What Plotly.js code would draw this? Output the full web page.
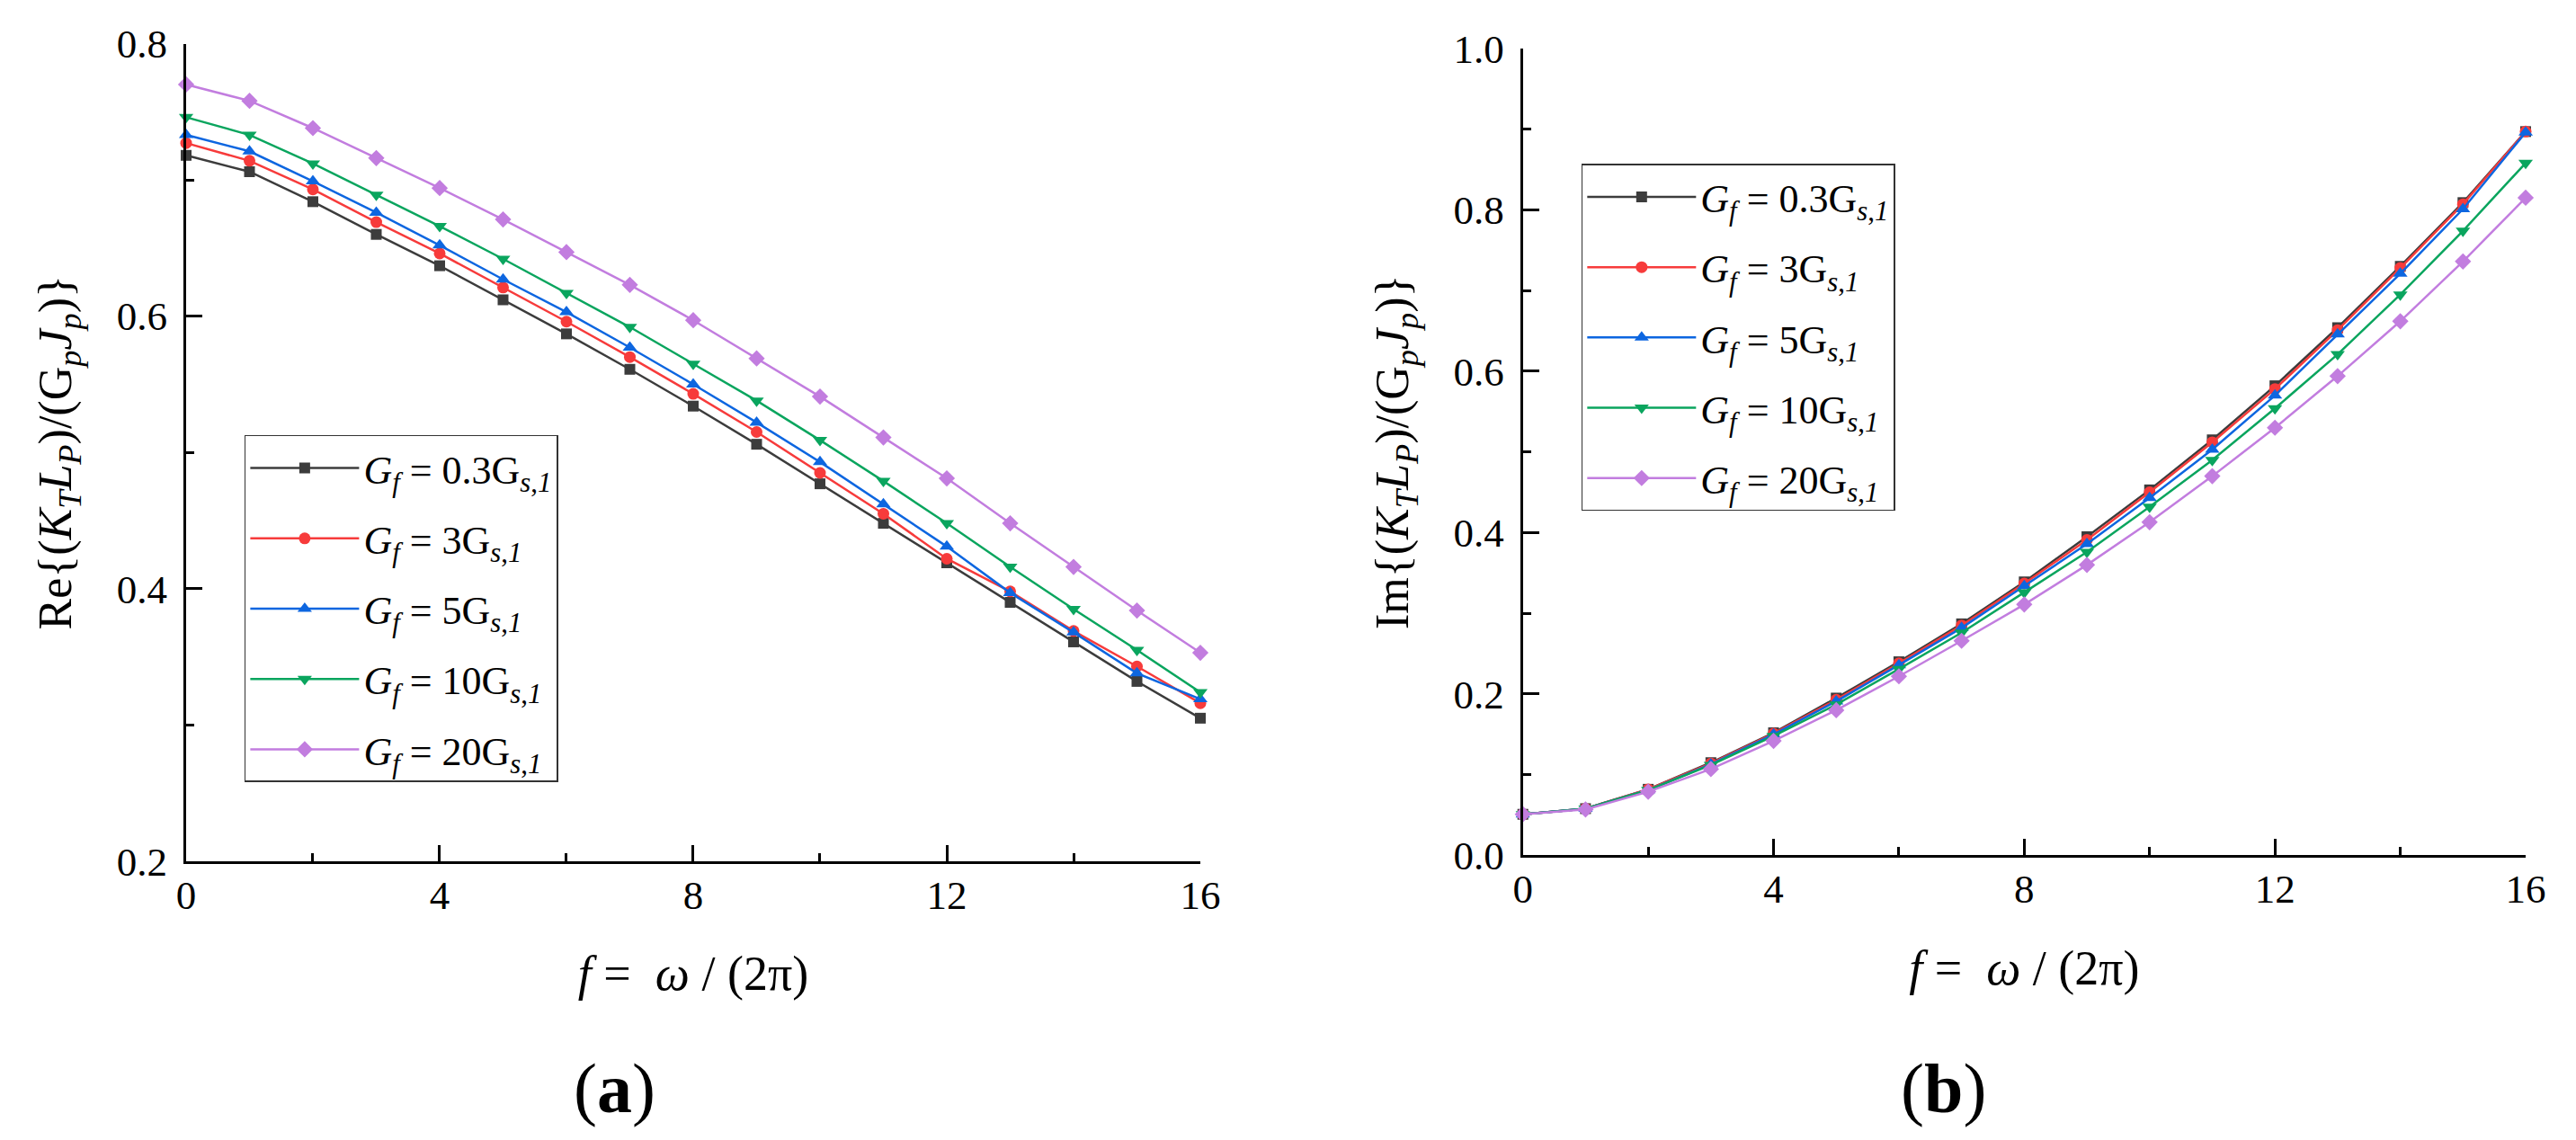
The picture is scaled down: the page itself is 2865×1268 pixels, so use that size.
<!DOCTYPE html>
<html>
<head>
<meta charset="utf-8">
<script src="https://cdn.plot.ly/plotly-3.0.1.min.js"></script>
<style>
  html, body { margin: 0; padding: 0; background: #fff; }
  #chart { width: 2865px; height: 1268px; }
</style>
</head>
<body>
<div id="chart"></div>
<script>
// values, f = 0..16
const freq = [0, 1, 2, 3, 4, 5, 6, 7, 8, 9, 10, 11, 12, 13, 14, 15, 16];
const ratios = ['0.3', '3', '5', '10', '20'];

// (a) real part
const reG03 = [0.718, 0.706, 0.684, 0.660, 0.637, 0.612, 0.587, 0.561, 0.534, 0.506, 0.477, 0.448, 0.419, 0.390, 0.361, 0.332, 0.305];
const reG3  = [0.727, 0.714, 0.693, 0.669, 0.646, 0.621, 0.596, 0.570, 0.543, 0.515, 0.485, 0.455, 0.422, 0.398, 0.369, 0.343, 0.316];
const reG5  = [0.733, 0.721, 0.699, 0.676, 0.652, 0.627, 0.603, 0.577, 0.550, 0.522, 0.493, 0.462, 0.431, 0.397, 0.368, 0.338, 0.319];
const reG10 = [0.746, 0.733, 0.712, 0.689, 0.666, 0.642, 0.617, 0.592, 0.565, 0.538, 0.509, 0.479, 0.448, 0.416, 0.385, 0.355, 0.324];
const reG20 = [0.770, 0.758, 0.738, 0.716, 0.694, 0.671, 0.647, 0.623, 0.597, 0.569, 0.541, 0.511, 0.481, 0.448, 0.416, 0.384, 0.353];

// (b) imaginary part
const imG03 = [0.051, 0.058, 0.082, 0.115, 0.152, 0.195, 0.240, 0.287, 0.339, 0.395, 0.453, 0.515, 0.582, 0.654, 0.730, 0.809, 0.897];
const imG3  = [0.051, 0.058, 0.082, 0.114, 0.151, 0.193, 0.238, 0.285, 0.337, 0.391, 0.450, 0.512, 0.578, 0.651, 0.728, 0.807, 0.897];
const imG5  = [0.051, 0.058, 0.081, 0.113, 0.150, 0.191, 0.236, 0.282, 0.334, 0.386, 0.443, 0.503, 0.570, 0.646, 0.721, 0.801, 0.896];
const imG10 = [0.051, 0.058, 0.081, 0.112, 0.148, 0.187, 0.231, 0.276, 0.326, 0.376, 0.432, 0.490, 0.554, 0.621, 0.695, 0.774, 0.858];
const imG20 = [0.051, 0.057, 0.079, 0.107, 0.142, 0.180, 0.222, 0.266, 0.311, 0.360, 0.413, 0.470, 0.530, 0.594, 0.662, 0.736, 0.815];

const reSeries = [reG03, reG3, reG5, reG10, reG20];
const imSeries = [imG03, imG3, imG5, imG10, imG20];

const COLORS = ['#3c3c3c', '#f73b3b', '#0d66e0', '#0aa55e', '#c27ddf'];
const SYMBOLS = ['square', 'circle', 'triangle-up', 'triangle-down', 'diamond'];
const SIZES = [12, 13, 14, 14, 14];
const FONT = 'Liberation Serif';

function legendName(r) {
  return '<i>G</i><sub><i>f</i></sub> = ' + r + 'G<sub><i>s</i>,<i>1</i></sub>';
}

function trace(ys, i, xa, ya, leg) {
  return {
    x: freq, y: ys, xaxis: xa, yaxis: ya, legend: leg,
    type: 'scatter', mode: 'lines+markers', cliponaxis: false,
    name: legendName(ratios[i]), legendgroup: leg + i, hoverinfo: 'skip',
    line: { color: COLORS[i], width: 2.5 },
    marker: { symbol: SYMBOLS[i], size: SIZES[i], color: COLORS[i] }
  };
}

const data = [];
reSeries.forEach((ys, i) => data.push(trace(ys, i, 'x', 'y', 'legend')));
imSeries.forEach((ys, i) => data.push(trace(ys, i, 'x2', 'y2', 'legend2')));

function minorTicks(step) {
  return { dtick: step, ticks: 'inside', ticklen: 9, tickwidth: 3, tickcolor: '#000', showgrid: false };
}

function axis(extra) {
  return Object.assign({
    showline: true, linewidth: 3, linecolor: '#000', mirror: false,
    showgrid: false, zeroline: false,
    ticks: 'inside', ticklen: 18, tickwidth: 3, tickcolor: '#000',
    tickfont: { family: FONT, size: 45, color: '#000' }
  }, extra);
}

const xTitle = { text: '<i>f</i> =\u00a0 <i>ω</i> / (2π)', font: { family: FONT, size: 54, color: '#000' }, standoff: 44 };
const titleFont = { family: FONT, size: 52, color: '#000' };
const yTitleText = '{(<i>K</i><sub><i>T</i></sub><i>L</i><sub><i>P</i></sub>)/(G<sub><i>p</i></sub><i>J</i><sub><i>p</i></sub>)}';

function legendBox(x, y) {
  return {
    x: x, y: y, xanchor: 'left', yanchor: 'top',
    bgcolor: '#fff', bordercolor: '#333', borderwidth: 1.5,
    font: { family: FONT, size: 44, color: '#000' },
    itemwidth: 121, tracegroupgap: 18, traceorder: 'grouped'
  };
}

const layout = {
  width: 2865, height: 1268,
  margin: { l: 0, r: 0, t: 0, b: 0 },
  paper_bgcolor: '#fff', plot_bgcolor: '#fff',
  font: { family: FONT, size: 45, color: '#000' },
  showlegend: true,
  xaxis: axis({ domain: [0.07225, 0.46597], range: [0, 16], dtick: 4, tick0: 0,
    minor: minorTicks(2), ticklabelstandoff: -4, title: xTitle }),
  yaxis: axis({ domain: [0.24448, 0.96175], range: [0.2, 0.8], dtick: 0.2, tick0: 0.2, tickformat: '.1f',
    minor: minorTicks(0.1), ticklabelstandoff: 9,
    title: { text: 'Re' + yTitleText, font: titleFont, standoff: 34 } }),
  xaxis2: axis({ anchor: 'y2', domain: [0.59117, 0.98045], range: [0, 16], dtick: 4, tick0: 0,
    minor: minorTicks(2), ticklabelstandoff: -4, title: xTitle }),
  yaxis2: axis({ anchor: 'x2', domain: [0.24961, 0.95749], range: [0, 1.0], dtick: 0.2, tick0: 0, tickformat: '.1f',
    minor: minorTicks(0.1), ticklabelstandoff: 9,
    title: { text: 'Im' + yTitleText, font: titleFont, standoff: 34 } }),
  legend: legendBox(0.0949, 0.6183),
  legend2: legendBox(0.6139, 0.8562),
  annotations: [
    { text: '(<b>a</b>)', xref: 'paper', yref: 'paper', x: 683 / 2865, y: 1 - 1210 / 1268,
      xanchor: 'center', yanchor: 'middle', showarrow: false, font: { family: FONT, size: 78, color: '#000' } },
    { text: '(<b>b</b>)', xref: 'paper', yref: 'paper', x: 2161 / 2865, y: 1 - 1210 / 1268,
      xanchor: 'center', yanchor: 'middle', showarrow: false, font: { family: FONT, size: 78, color: '#000' } }
  ]
};

Plotly.newPlot('chart', data, layout, { displayModeBar: false, staticPlot: true });
</script>
</body>
</html>
